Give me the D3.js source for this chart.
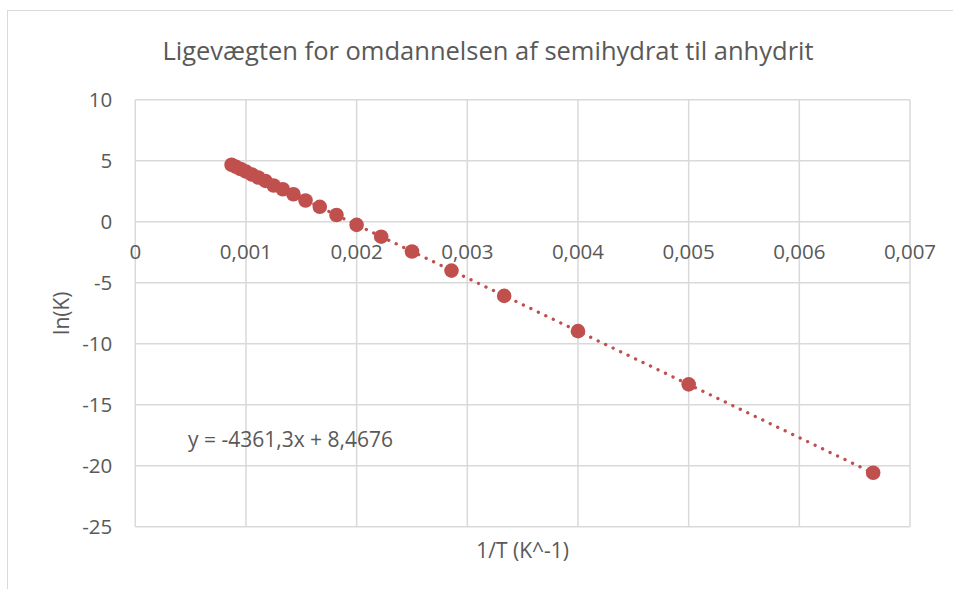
<!DOCTYPE html>
<html>
<head>
<meta charset="utf-8">
<script src="https://cdn.jsdelivr.net/npm/d3@7"></script>
<style>
  body { margin: 0; background: #fff; }
  text { font-family: "Open Sans", "Noto Sans", sans-serif; fill: #595959; }
</style>
</head>
<body>
<div id="chart"></div>
<script>
// 1/T values (K^-1) and ln(K) values
const invT = [0.000870, 0.000909, 0.000952, 0.001000, 0.001053, 0.001111, 0.001176,
              0.001250, 0.001333, 0.001429, 0.001538, 0.001667, 0.001818, 0.002000,
              0.002222, 0.002500, 0.002857, 0.003333, 0.004000, 0.005000, 0.006667];
const lnK = [4.67, 4.50, 4.32, 4.11, 3.87, 3.62, 3.34,
             2.97, 2.66, 2.25, 1.74, 1.22, 0.55, -0.26,
             -1.23, -2.44, -4.01, -6.08, -8.97, -13.33, -20.58];
const xTicks = [0, 0.001, 0.002, 0.003, 0.004, 0.005, 0.006, 0.007];
const yTicks = [10, 5, 0, -5, -10, -15, -20, -25];
const slope = -4361.3;
const intercept = 8.4676;
const title = "Ligevægten for omdannelsen af semihydrat til anhydrit";
const xTitle = "1/T (K^-1)";
const yTitle = "ln(K)";
const eqLabel = "y = -4361,3x + 8,4676";

const W = 953, H = 589;
const margin = { top: 99.7, right: 43, bottom: 62.3, left: 135.3 };
const color = "#C0504D";
const grid = "#D9D9D9";

const svg = d3.select("#chart").append("svg")
    .attr("width", W)
    .attr("height", H);

// outer chart border (cut off at right and bottom)
svg.append("rect")
    .attr("x", 7.5).attr("y", 10.5)
    .attr("width", 960).attr("height", 600)
    .attr("fill", "none")
    .attr("stroke", grid)
    .attr("stroke-width", 1);

const x = d3.scaleLinear().domain([0, 0.007]).range([margin.left, W - margin.right]);
const y = d3.scaleLinear().domain([-25, 10]).range([H - margin.bottom, margin.top]);

const fmt = d => d3.format("")(d).replace(".", ",");

// gridlines
svg.append("g")
    .selectAll("line")
    .data(yTicks)
    .enter()
    .append("line")
    .attr("x1", x(0)).attr("x2", x(0.007))
    .attr("y1", d => y(d)).attr("y2", d => y(d))
    .attr("stroke", grid)
    .attr("stroke-width", 1.5);

svg.append("g")
    .selectAll("line")
    .data(xTicks)
    .enter()
    .append("line")
    .attr("x1", d => x(d)).attr("x2", d => x(d))
    .attr("y1", y(10)).attr("y2", y(-25))
    .attr("stroke", grid)
    .attr("stroke-width", 1.5);

// tick labels
svg.append("g")
    .selectAll("text")
    .data(yTicks)
    .enter()
    .append("text")
    .attr("x", x(0) - 23)
    .attr("y", d => y(d))
    .attr("dy", "0.35em")
    .attr("text-anchor", "end")
    .style("font-size", "20.5px")
    .text(d => d);

svg.append("g")
    .selectAll("text")
    .data(xTicks)
    .enter()
    .append("text")
    .attr("x", d => x(d))
    .attr("y", y(0) + 30)
    .attr("dy", "0.35em")
    .attr("text-anchor", "middle")
    .style("font-size", "20.5px")
    .text(d => fmt(d));

// trendline
const x0 = d3.min(invT), x1 = d3.max(invT);
svg.append("line")
    .attr("x1", x(x0)).attr("y1", y(slope * x0 + intercept))
    .attr("x2", x(x1)).attr("y2", y(slope * x1 + intercept))
    .attr("stroke", color)
    .attr("stroke-width", 3.3)
    .attr("stroke-linecap", "round")
    .attr("stroke-dasharray", "0.1 8.2");

// points
svg.append("g")
    .selectAll("circle")
    .data(invT.map((v, i) => [v, lnK[i]]))
    .enter()
    .append("circle")
    .attr("cx", d => x(d[0]))
    .attr("cy", d => y(d[1]))
    .attr("r", 7.3)
    .attr("fill", color);

// titles
svg.append("text")
    .attr("x", 488)
    .attr("y", 51)
    .attr("dy", "0.35em")
    .attr("text-anchor", "middle")
    .style("font-size", "25.5px")
    .text(title);

svg.append("text")
    .attr("x", (x(0) + x(0.007)) / 2)
    .attr("y", 551)
    .attr("dy", "0.35em")
    .attr("text-anchor", "middle")
    .style("font-size", "21px")
    .text(xTitle);

svg.append("text")
    .attr("transform", `translate(62,${(y(10) + y(-25)) / 2}) rotate(-90)`)
    .attr("dy", "0.35em")
    .attr("text-anchor", "middle")
    .style("font-size", "21px")
    .text(yTitle);

svg.append("text")
    .attr("x", 188)
    .attr("y", 440)
    .attr("dy", "0.35em")
    .style("font-size", "21px")
    .text(eqLabel);
</script>
</body>
</html>
